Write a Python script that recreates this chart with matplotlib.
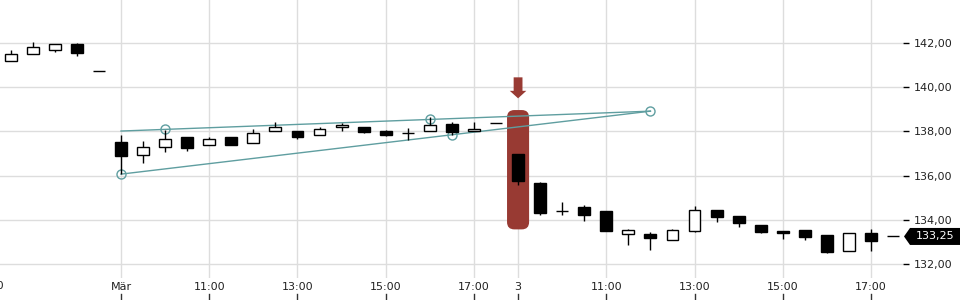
import matplotlib.pyplot as plt
import matplotlib.transforms as mtransforms
from matplotlib.patches import FancyBboxPatch, Polygon
from matplotlib.ticker import FuncFormatter
import numpy as np

# OHLC, 30-min candles (index 1 = 15:30 previous day)
opens = [141.17, 141.49, 141.71, 141.94, 140.72,
         137.52, 136.92, 137.31, 137.75, 137.37, 137.73, 137.46, 138.02, 138.03,
         137.82, 138.19, 138.19, 138.01, 137.94, 138.00, 138.32, 138.00, 138.37,
         136.98, 135.67, 134.38, 134.58, 134.40, 133.37, 133.36, 133.07, 133.51,
         134.44, 134.17, 133.76, 133.49, 133.54, 133.31, 132.60, 133.39, 133.25]
highs = [141.68, 142.03, 141.94, 141.99, 140.72,
         137.84, 137.57, 138.06, 137.75, 137.73, 137.73, 138.11, 138.43, 138.03,
         138.19, 138.37, 138.19, 138.06, 138.14, 138.64, 138.41, 138.41, 138.37,
         136.98, 135.70, 134.81, 134.67, 134.40, 133.58, 133.43, 133.60, 134.64,
         134.44, 134.17, 133.76, 133.49, 133.54, 133.31, 133.39, 133.57, 133.25]
lows = [141.17, 141.49, 141.61, 141.43, 140.72,
        136.06, 136.58, 137.05, 137.13, 137.37, 137.37, 137.46, 138.02, 137.64,
        137.82, 138.03, 137.94, 137.79, 137.61, 138.00, 137.84, 138.00, 138.37,
        135.57, 134.22, 134.22, 133.96, 133.51, 132.86, 132.63, 133.07, 133.47,
        133.91, 133.69, 133.40, 133.12, 133.10, 132.48, 132.60, 132.60, 133.25]
closes = [141.49, 141.81, 141.94, 141.56, 140.72,
          136.90, 137.28, 137.66, 137.26, 137.64, 137.37, 137.94, 138.19, 137.73,
          138.10, 138.29, 137.99, 137.83, 137.94, 138.28, 137.99, 138.10, 138.37,
          135.77, 134.32, 134.38, 134.23, 133.51, 133.54, 133.19, 133.54, 134.43,
          134.14, 133.86, 133.45, 133.42, 133.24, 132.56, 133.39, 133.05, 133.25]
pos = np.arange(1, len(opens) + 1)

# x axis labels
tick_pos = [6, 10, 14, 18, 22, 24, 28, 32, 36, 40]
tick_lbl = ['Mär', '11:00', '13:00', '15:00', '17:00', '3', '11:00', '13:00', '15:00', '17:00']
yticks = [132, 134, 136, 138, 140, 142]

# trend lines (start, end) and anchor circles
upper_x, upper_y = [6, 30], [138.02, 138.92]
lower_x, lower_y = [6, 30], [136.07, 138.92]
circ_x = [6, 8, 20, 21, 30]
circ_y = [136.07, 138.09, 138.55, 137.85, 138.92]

# highlighted candle
hl_x = 24
hl_top, hl_bottom = 138.97, 133.57
arrow_top, arrow_tip = 140.45, 139.50

red = '#983a33'
teal = '#5f9ea0'

fig = plt.figure(figsize=(9.6, 3), dpi=100)
ax = fig.add_axes([0, 22 / 300, 903 / 960, 278 / 300])
ax.set_xlim(0.515, 41.45)
ax.set_ylim(131.37, 143.95)

# highlight + arrow
ax.add_patch(FancyBboxPatch((hl_x - 0.5, hl_bottom), 1.0, hl_top - hl_bottom,
                            boxstyle='round,pad=0,rounding_size=0.33',
                            fc=red, ec='none', zorder=2))
ax.arrow(hl_x, arrow_top, 0, arrow_tip - arrow_top, width=0.4, head_width=0.75,
         head_length=0.34, length_includes_head=True, fc=red, ec='none', zorder=2)

# trend lines
ax.plot(upper_x, upper_y, color=teal, lw=1, zorder=3)
ax.plot(lower_x, lower_y, color=teal, lw=1, zorder=3)
ax.plot(circ_x, circ_y, 'o', ms=6.5, mfc='none', mec=teal, mew=1, zorder=3)

# candles
o = np.array(opens)
c = np.array(closes)
ax.vlines(pos, lows, highs, color='black', lw=1, zorder=4)
face = ['white' if cc > oo else 'black' for oo, cc in zip(o, c)]
ax.bar(pos, np.abs(c - o), bottom=np.minimum(o, c), width=0.54,
       color=face, edgecolor='black', linewidth=1, zorder=5)

# axes styling
for s in ax.spines.values():
    s.set_visible(False)
ax.set_axisbelow(True)
ax.grid(True, color='#dddddd', lw=1)
ax.set_xticks(tick_pos)
ax.set_xticklabels(tick_lbl)
ax.tick_params(axis='x', length=0, pad=3, labelsize=8, labelcolor='#222222')
ax.yaxis.tick_right()
ax.set_yticks(yticks)
ax.yaxis.set_major_formatter(FuncFormatter(lambda v, p: f'{v:.2f}'.replace('.', ',')))
ax.tick_params(axis='y', length=4, width=1, color='black', pad=4, labelsize=8,
               labelcolor='#222222')

# small marks under the time labels, plus cut-off label at the left edge
xt = ax.get_xaxis_transform()
for p in tick_pos + [0]:
    ax.plot([p, p], [-0.058, -0.075], transform=xt, color='#333333', lw=1, clip_on=False)
ax.text(0, -0.01, '15:00', transform=xt, ha='center', va='top', fontsize=8,
        color='#222222', clip_on=False)

# last price tag
last = closes[-1]
bt = mtransforms.blended_transform_factory(fig.transFigure, ax.transData)
h = 8.5 / 22.1
ax.add_patch(Polygon([(904 / 960, last), (910 / 960, last + h), (1.0, last + h),
                      (1.0, last - h), (910 / 960, last - h)],
                     closed=True, transform=bt, fc='black', ec='none', clip_on=False))
ax.text(935.5 / 960, last, f'{last:.2f}'.replace('.', ','), transform=bt,
        ha='center', va='center', color='white', fontsize=8, clip_on=False)

fig.savefig('out.png', dpi=100)
